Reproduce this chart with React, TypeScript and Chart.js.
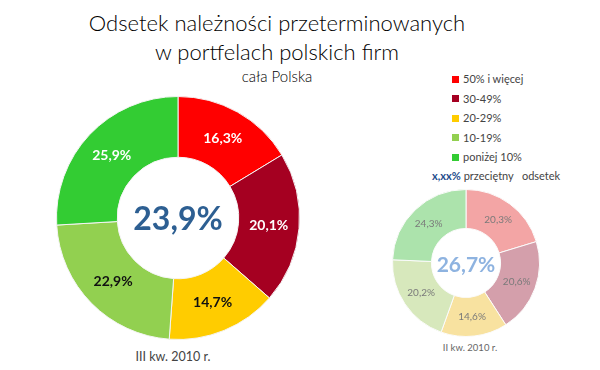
import React, { useEffect, useRef } from "react";
import { Chart, registerables } from "chart.js";

Chart.register(...registerables);

const categories = ["50% i więcej", "30-49%", "20-29%", "10-19%", "poniżej 10%"];
const q3Values = [16.3, 20.1, 14.7, 22.9, 25.9];
const q2Values = [20.3, 20.6, 14.6, 20.2, 24.3];
const q3Average = 23.9;
const q2Average = 26.7;
const q3Label = "III kw. 2010 r.";
const q2Label = "II kw. 2010 r.";

const colors = ["#ff0000", "#a50021", "#ffcc00", "#92d050", "#33cc33"];
const fadedColors = ["#f3a5a5", "#d49fab", "#f8e2a0", "#d7e8bc", "#ace3ac"];
const bigLabelColors = ["#ffffff", "#ffffff", "#111111", "#111111", "#ffffff"];

const FONT = "Lato, 'Open Sans', sans-serif";

const fmt = (v: number) => v.toFixed(1).replace(".", ",") + "%";

function makePlugin(opts: {
  labelColors: string[];
  labelFont: string;
  center: number;
  centerFont: string;
  centerColor: string;
}) {
  return {
    id: "donutText",
    afterDatasetsDraw(chart: any) {
      const ctx = chart.ctx;
      const meta = chart.getDatasetMeta(0);
      const data = chart.data.datasets[0].data as number[];
      ctx.save();
      ctx.textAlign = "center";
      ctx.textBaseline = "middle";
      meta.data.forEach((arc: any, i: number) => {
        const p = arc.tooltipPosition();
        ctx.font = opts.labelFont;
        ctx.fillStyle = opts.labelColors[i];
        ctx.fillText(fmt(data[i]), p.x, p.y);
      });
      const a = chart.chartArea;
      ctx.font = opts.centerFont;
      ctx.fillStyle = opts.centerColor;
      ctx.fillText(fmt(opts.center), (a.left + a.right) / 2, (a.top + a.bottom) / 2 + 2);
      ctx.restore();
    },
  };
}

function Donut(props: {
  values: number[];
  bg: string[];
  size: number;
  cutout: string;
  plugin: any;
  borderColor: string;
}) {
  const ref = useRef<HTMLCanvasElement>(null);
  useEffect(() => {
    const chart = new Chart(ref.current as HTMLCanvasElement, {
      type: "doughnut",
      data: {
        labels: categories,
        datasets: [
          {
            data: props.values,
            backgroundColor: props.bg,
            borderColor: props.borderColor,
            borderWidth: 1,
          },
        ],
      },
      options: {
        animation: false,
        responsive: false,
        cutout: props.cutout,
        plugins: { legend: { display: false }, tooltip: { enabled: false } },
        layout: { padding: 0 },
      },
      plugins: [props.plugin],
    });
    return () => chart.destroy();
  }, []);
  return <canvas ref={ref} width={props.size} height={props.size} style={{ width: props.size, height: props.size }} />;
}

export default function App() {
  useEffect(() => {
    document.body.style.margin = "0";
  }, []);
  const bigPlugin = makePlugin({
    labelColors: bigLabelColors,
    labelFont: `bold 14px ${FONT}`,
    center: q3Average,
    centerFont: `bold 32px ${FONT}`,
    centerColor: "#2d5f92",
  });
  const smallPlugin = makePlugin({
    labelColors: ["#7a7a7a", "#7a7a7a", "#7a7a7a", "#7a7a7a", "#7a7a7a"],
    labelFont: `10px ${FONT}`,
    center: q2Average,
    centerFont: `bold 21px ${FONT}`,
    centerColor: "#8eb3e0",
  });
  return (
    <div style={{ position: "absolute", left: 0, top: 0, width: 600, height: 370, background: "#fff", fontFamily: FONT, color: "#111" }}>
      <div style={{ position: "absolute", left: 0, width: 554, top: 8, textAlign: "center", fontSize: 22, lineHeight: "29px", fontWeight: 300, color: "#000" }}>
        Odsetek należności przeterminowanych
        <br />w portfelach polskich firm
      </div>
      <div style={{ position: "absolute", left: 0, width: 554, top: 67, textAlign: "center", fontSize: 15, fontWeight: 300, color: "#000" }}>cała Polska</div>

      <div style={{ position: "absolute", left: 56, top: 96 }}>
        <Donut values={q3Values} bg={colors} size={244} cutout="50%" plugin={bigPlugin} borderColor="#f4f4f4" />
      </div>
      <div style={{ position: "absolute", left: 73, width: 200, top: 349, textAlign: "center", fontSize: 12.5, fontWeight: 400, color: "#444" }}>{q3Label}</div>

      <div style={{ position: "absolute", left: 392, top: 189 }}>
        <Donut values={q2Values} bg={fadedColors} size={148} cutout="47%" plugin={smallPlugin} borderColor="#fbfbfb" />
      </div>
      <div style={{ position: "absolute", left: 390, width: 160, top: 342, textAlign: "center", fontSize: 9.5, color: "#666" }}>{q2Label}</div>

      {categories.map((c, i) => (
        <div key={c} style={{ position: "absolute", left: 452, top: 72 + i * 19.5, fontSize: 11, lineHeight: "14px", color: "#444", display: "flex", alignItems: "center" }}>
          <span style={{ display: "inline-block", width: 7, height: 7, background: colors[i], marginRight: 4 }} />
          {c}
        </div>
      ))}
      <div style={{ position: "absolute", left: 432, top: 169, fontSize: 11, lineHeight: "14px", color: "#444", whiteSpace: "nowrap" }}>
        <b style={{ color: "#1f4e8c" }}>x,xx%</b> przeciętny&nbsp;&nbsp; odsetek
      </div>
    </div>
  );
}
